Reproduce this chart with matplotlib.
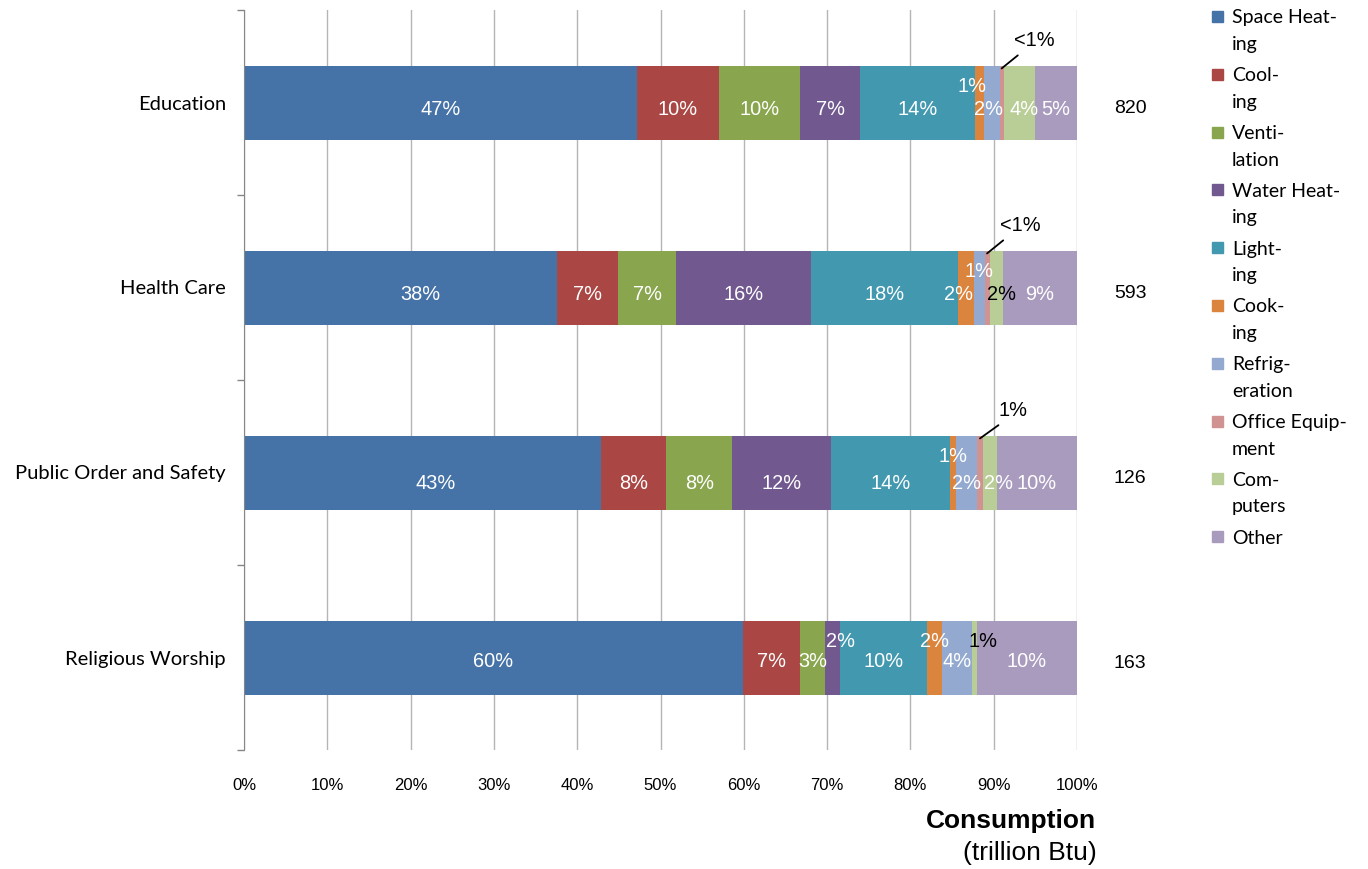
#Stacked share of end-use consumption by building activity.

import matplotlib
matplotlib.use('Agg')
import matplotlib.pyplot as plt
from matplotlib.patches import Rectangle
from matplotlib.ticker import FixedLocator

#======= DATA =========
categories = ['Education', 'Health Care', 'Public Order and Safety', 'Religious Worship']
totals = ['820', '593', '126', '163']

end_uses = ['Space Heating', 'Cooling', 'Ventilation', 'Water Heating', 'Lighting',
            'Cooking', 'Refrigeration', 'Office Equipment', 'Computers', 'Other']
legend_lines = [('Space Heat-', 'ing'), ('Cool-', 'ing'), ('Venti-', 'lation'),
                ('Water Heat-', 'ing'), ('Light-', 'ing'), ('Cook-', 'ing'),
                ('Refrig-', 'eration'), ('Office Equip-', 'ment'), ('Com-', 'puters'),
                ('Other',)]
colors = ['#4572A7', '#AA4643', '#89A54E', '#71588F', '#4198AF',
          '#DB843D', '#93A9CF', '#D19392', '#B9CD96', '#A99BBD']

# percent of each building's consumption, in end_uses order
education = [47.2, 9.8, 9.8, 7.2, 13.7, 1.1, 1.9, 0.5, 3.7, 5.1]
health_care = [37.6, 7.3, 7.0, 16.2, 17.6, 1.9, 1.3, 0.6, 1.6, 8.9]
public_order = [42.9, 7.8, 7.9, 11.9, 14.3, 0.7, 2.5, 0.7, 1.7, 9.6]
religious = [59.9, 6.8, 3.1, 1.8, 10.4, 1.8, 3.6, 0.0, 0.6, 12.0]
shares = [education, health_care, public_order, religious]

education_labels = ['47%', '10%', '10%', '7%', '14%', '1%', '2%', '', '4%', '5%']
health_care_labels = ['38%', '7%', '7%', '16%', '18%', '2%', '1%', '', '2%', '9%']
public_order_labels = ['43%', '8%', '8%', '12%', '14%', '1%', '2%', '', '2%', '10%']
religious_labels = ['60%', '7%', '3%', '2%', '10%', '2%', '4%', '', '1%', '10%']
labels = [education_labels, health_care_labels, public_order_labels, religious_labels]

# office equipment callouts above the bars
office_callouts = ['<1%', '<1%', '1%', '']

#======= STYLE =========
raised = {(0, 5), (1, 6), (2, 5), (3, 3), (3, 5), (3, 8)}   # labels lifted above centre
dark = {(1, 8), (3, 8)}                                      # labels drawn in black
nudge = {(1, 0): 20, (2, 0): 13, (3, 3): 8, (2, 8): 9, (0, 5): -7, (1, 5): -7,
         (1, 8): 5, (3, 8): 8, (0, 8): 5, (0, 6): -3}
label_drop = [7, 7, 11, 4]   # pixels below bar centre
bar_h = 0.4

label_font = 'Liberation Sans'
cat_font = 'Lato'

#======= MAIN =========
fig = plt.figure(figsize=(13.68, 8.69), dpi=100)
ax = fig.add_axes([244 / 1368., 1 - 750 / 869., 833 / 1368., 740 / 869.])

for i, row in enumerate(shares):
	left = 0.0
	for j, v in enumerate(row):
		ax.barh(i, v, left=left, height=bar_h, color=colors[j], edgecolor='none', zorder=2)
		txt = labels[i][j]
		if txt:
			dy = 16 if (i, j) in raised else -label_drop[i]
			ax.annotate(txt, xy=(left + v / 2., i), xytext=(nudge.get((i, j), 0), dy),
			            textcoords='offset pixels', ha='center', va='center',
			            color='black' if (i, j) in dark else 'white',
			            fontsize=14.4, family=label_font, zorder=3)
		if j == 7 and office_callouts[i]:
			ax.annotate(office_callouts[i], xy=(left + v / 2., i - bar_h / 2 + 0.016),
			            xytext=(33, 28), textcoords='offset pixels', ha='center', va='center',
			            fontsize=14.4, family=label_font, color='black', zorder=4,
			            arrowprops=dict(arrowstyle='-', color='black', lw=1.3,
			                            relpos=(0.25, 0.0), shrinkA=3, shrinkB=0))
		left += v
	ax.annotate(totals[i], xy=(1.064, i), xycoords=('axes fraction', 'data'),
	            xytext=(0, -6), textcoords='offset pixels', ha='center', va='center',
	            fontsize=14, family=label_font, color='black')

ax.set_xlim(0, 100)
ax.set_ylim(3.5, -0.5)

ax.set_xticks(range(0, 101, 10))
ax.set_xticklabels([str(v) + '%' for v in range(0, 101, 10)], family=label_font, fontsize=12)
ax.tick_params(axis='x', length=0, pad=20)
ax.xaxis.grid(True, color='#B5B5B5', lw=1, zorder=0)
ax.set_axisbelow(True)

ax.yaxis.set_major_locator(FixedLocator([-0.5, 0.5, 1.5, 2.5, 3.5]))
ax.set_yticklabels([])
ax.tick_params(axis='y', which='major', length=5, color='#868686', width=1)
ax.yaxis.set_minor_locator(FixedLocator(range(len(categories))))
ax.set_yticklabels(categories, minor=True, family=cat_font, fontsize=14.5)
ax.tick_params(axis='y', which='minor', length=0, pad=13)

for s in ['top', 'right', 'bottom']:
	ax.spines[s].set_visible(False)
ax.spines['left'].set_color('#868686')

#legend drawn by hand, two lines per entry
for k, lines in enumerate(legend_lines):
	ytop = 18 + k * 57.8
	fig.add_artist(Rectangle((1212 / 1368., 1 - (ytop + 4) / 869.), 11 / 1368., 11 / 869.,
	                         transform=fig.transFigure, color=colors[k]))
	for n, line in enumerate(lines):
		fig.text(1232 / 1368., 1 - (ytop + n * 26.5) / 869., line, ha='left', va='center',
		         family=cat_font, fontsize=14)

fig.text(1096 / 1368., 1 - 821 / 869., 'Consumption', ha='right', va='center',
         family=label_font, fontsize=19, weight='bold')
fig.text(1097 / 1368., 1 - 853 / 869., '(trillion Btu)', ha='right', va='center',
         family=label_font, fontsize=19)

fig.savefig('out.png', dpi=100)
